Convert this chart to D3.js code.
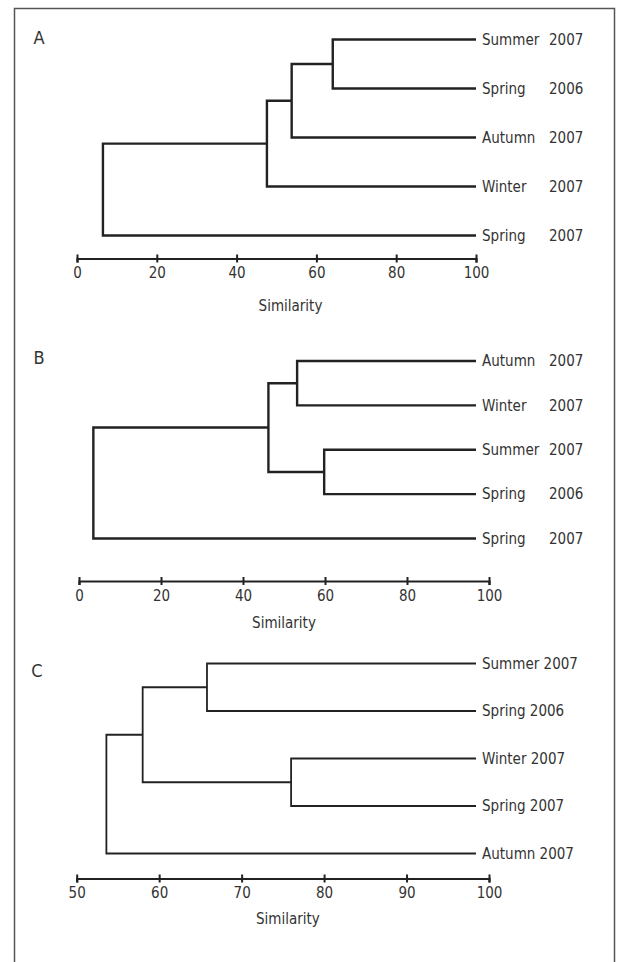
<!DOCTYPE html>
<html>
<head>
<meta charset="utf-8">
<script src="https://cdn.jsdelivr.net/npm/d3@7"></script>
<style>
  body { margin: 0; background: #fff; }
  svg { display: block; font-family: 'DejaVu Sans Condensed', 'Noto Sans', sans-serif; }
  .axis text { fill: #333; font-size: 15px; font-family: 'DejaVu Sans Condensed', 'Noto Sans', sans-serif; }
</style>
</head>
<body>
<svg id="chart" width="620" height="962"></svg>
<script>
// leaves, top to bottom; merges are [childA, childB, similarity] with
// node ids 0..4 = leaves, 5.. = earlier merges (linkage style)
const leavesA = [['Summer', '2007'], ['Spring', '2006'], ['Autumn', '2007'], ['Winter', '2007'], ['Spring', '2007']];
const mergesA = [[0, 1, 64.1], [5, 2, 53.8], [6, 3, 47.6], [7, 4, 6.5]];
const ticksA = [0, 20, 40, 60, 80, 100];

const leavesB = [['Autumn', '2007'], ['Winter', '2007'], ['Summer', '2007'], ['Spring', '2006'], ['Spring', '2007']];
const mergesB = [[0, 1, 53.2], [2, 3, 59.8], [5, 6, 46.2], [7, 4, 3.5]];
const ticksB = [0, 20, 40, 60, 80, 100];

const leavesC = [['Summer', '2007'], ['Spring', '2006'], ['Winter', '2007'], ['Spring', '2007'], ['Autumn', '2007']];
const mergesC = [[0, 1, 65.8], [2, 3, 76.0], [5, 6, 58.0], [7, 4, 53.6]];
const ticksC = [50, 60, 70, 80, 90, 100];

const panels = [
  {
    letter: 'A', leaves: leavesA, merges: mergesA, ticks: ticksA, domain: [0, 100],
    xRange: [77, 476], rows: [39.5, 235.5], axisY: 258.5, titleY: 306, titleDx: 14,
    letterPos: [39, 38], yearCol: true, strokeW: 2.4,
  },
  {
    letter: 'B', leaves: leavesB, merges: mergesB, ticks: ticksB, domain: [0, 100],
    xRange: [79, 489], rows: [361, 538.5], axisY: 581, titleY: 623, titleDx: 0,
    letterPos: [39, 358], yearCol: true, strokeW: 2.4,
  },
  {
    letter: 'C', leaves: leavesC, merges: mergesC, ticks: ticksC, domain: [50, 100],
    xRange: [76.7, 489], rows: [663.5, 853.5], axisY: 878.5, titleY: 919, titleDx: 5,
    letterPos: [37, 671], yearCol: false, strokeW: 1.8,
  },
];

const leafEnd = 476;
const yearX = 549;
const lineColor = '#222';
const textColor = '#333';

const svg = d3.select('#chart');

// frame round the figure (open at the bottom)
svg.append('path')
  .attr('d', 'M14.5,962V8.5H614.5V962')
  .attr('fill', 'none')
  .attr('stroke', '#555')
  .attr('stroke-width', 1.5);

function drawPanel(p) {
  const g = svg.append('g').attr('class', `panel panel-${p.letter}`);

  const x = d3.scaleLinear().domain(p.domain).range(p.xRange);
  const y = d3.scalePoint().domain(d3.range(p.leaves.length)).range(p.rows);

  // node positions: leaves first, merges after
  const nodes = p.leaves.map((d, i) => ({ x: leafEnd, y: y(i) }));
  p.merges.forEach(([a, b, sim]) => {
    nodes.push({ x: x(sim), y: (nodes[a].y + nodes[b].y) / 2, children: [a, b] });
  });

  const links = [];
  nodes.filter((n) => n.children).forEach((n) => {
    const [a, b] = n.children.map((c) => nodes[c]);
    links.push(`M${a.x},${a.y}H${n.x}V${b.y}H${b.x}`);
  });

  g.selectAll('.link')
    .data(links)
    .join('path')
    .attr('class', 'link')
    .attr('d', (d) => d)
    .attr('fill', 'none')
    .attr('stroke', lineColor)
    .attr('stroke-width', p.strokeW)
    .attr('stroke-linejoin', 'miter');

  // leaf labels
  const labels = g.selectAll('.leaf-label')
    .data(p.leaves)
    .join('g')
    .attr('class', 'leaf-label')
    .attr('transform', (d, i) => `translate(0, ${y(i)})`);

  if (p.yearCol) {
    labels.append('text')
      .attr('x', leafEnd + 6)
      .attr('dy', '0.35em')
      .attr('font-size', 15)
      .attr('fill', textColor)
      .text((d) => d[0]);
    labels.append('text')
      .attr('x', yearX)
      .attr('dy', '0.35em')
      .attr('font-size', 15)
      .attr('fill', textColor)
      .text((d) => d[1]);
  } else {
    labels.append('text')
      .attr('x', leafEnd + 6)
      .attr('dy', '0.35em')
      .attr('font-size', 15)
      .attr('fill', textColor)
      .text((d) => `${d[0]} ${d[1]}`);
  }

  // similarity axis, ticks crossing the line
  const axisG = g.append('g')
    .attr('class', 'axis')
    .attr('transform', `translate(0, ${p.axisY})`)
    .call(d3.axisBottom(x).tickValues(p.ticks).tickSizeOuter(0).tickSize(4));

  axisG.select('.domain').attr('stroke', lineColor).attr('stroke-width', 2.2);
  axisG.selectAll('.tick line').attr('y1', -4).attr('y2', 4).attr('stroke', lineColor).attr('stroke-width', 2);
  axisG.selectAll('.tick text').attr('y', 9).attr('dy', '0.71em');

  g.append('text')
    .attr('x', (p.xRange[0] + p.xRange[1]) / 2 + p.titleDx)
    .attr('y', p.titleY)
    .attr('dy', '0.35em')
    .attr('text-anchor', 'middle')
    .attr('font-size', 15)
    .attr('fill', textColor)
    .text('Similarity');

  g.append('text')
    .attr('x', p.letterPos[0])
    .attr('y', p.letterPos[1])
    .attr('dy', '0.35em')
    .attr('text-anchor', 'middle')
    .attr('font-size', 18)
    .attr('fill', textColor)
    .text(p.letter);
}

panels.forEach(drawPanel);
</script>
</body>
</html>
